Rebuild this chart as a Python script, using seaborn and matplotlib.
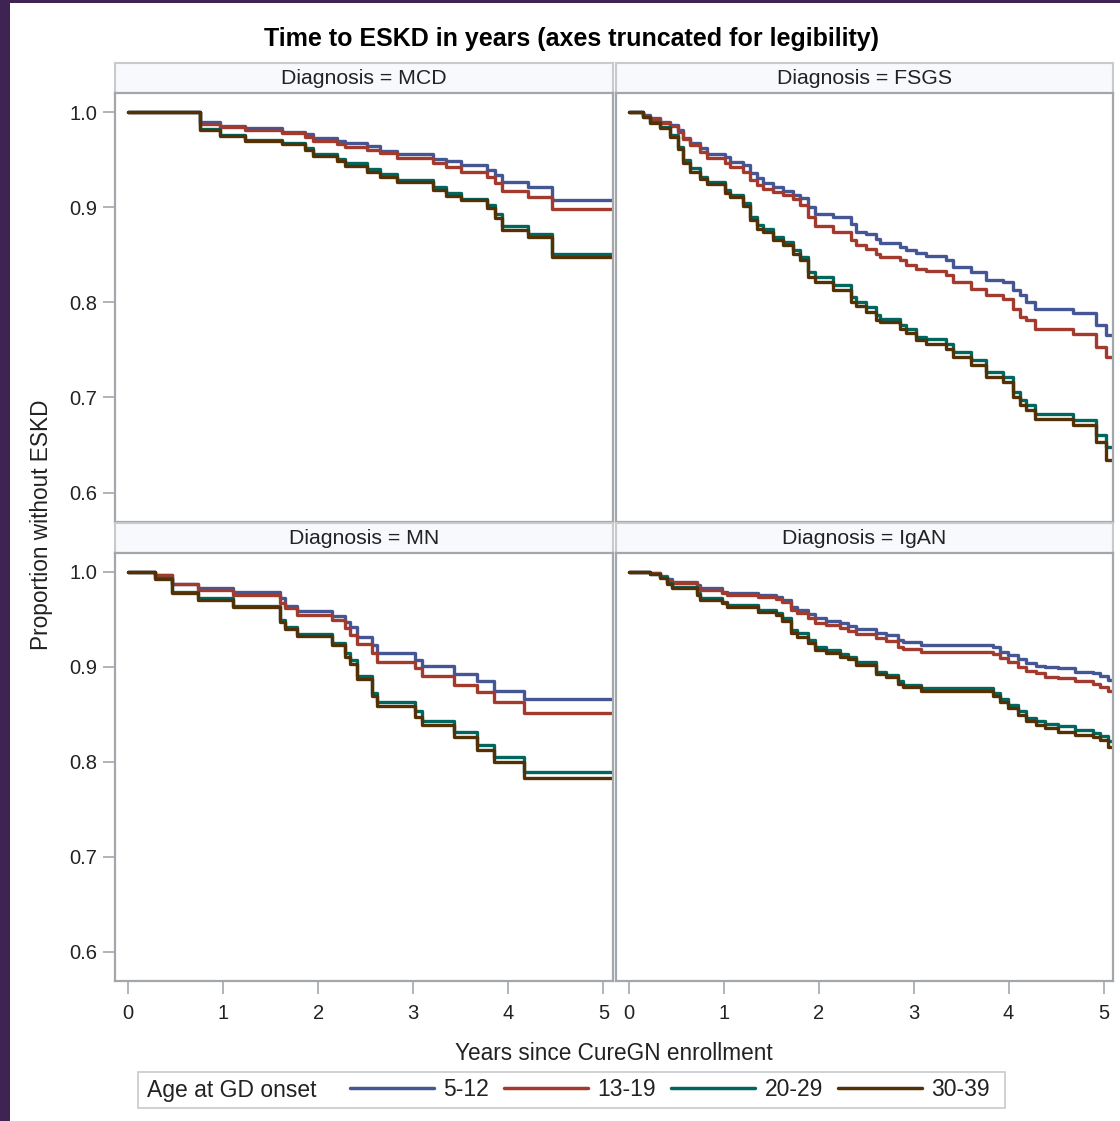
import numpy as np
import pandas as pd
import matplotlib
matplotlib.use("Agg")
import matplotlib.pyplot as plt
from matplotlib.lines import Line2D
from matplotlib.patches import Rectangle
import seaborn as sns

sns.set_style("white")
plt.rcParams["font.family"] = ["Liberation Sans", "DejaVu Sans"]

# ---------------- data ----------------
age_groups = ["5-12", "13-19", "20-29", "30-39"]
age_colors = ["#445694", "#A23A2E", "#01665E", "#543005"]
diagnoses = ["MCD", "FSGS", "MN", "IgAN"]
x_ticks = [0, 1, 2, 3, 4, 5]
y_ticks = [0.6, 0.7, 0.8, 0.9, 1.0]
t_end = 5.1

t_mcd = [0, 0.76, 0.97, 1.23, 1.62, 1.86, 1.95, 2.20, 2.28, 2.51, 2.65, 2.83,
         3.21, 3.34, 3.50, 3.78, 3.86, 3.93, 4.21, 4.46]
mcd_5_12 = [1.0, 0.989, 0.985, 0.983, 0.979, 0.977, 0.973, 0.970, 0.967, 0.964,
            0.959, 0.956, 0.951, 0.948, 0.944, 0.939, 0.934, 0.926, 0.921, 0.907]
mcd_13_19 = [1.0, 0.987, 0.984, 0.981, 0.978, 0.974, 0.970, 0.966, 0.9635, 0.960,
             0.957, 0.952, 0.946, 0.942, 0.937, 0.932, 0.925, 0.917, 0.911, 0.898]
mcd_20_29 = [1.0, 0.982, 0.976, 0.971, 0.967, 0.962, 0.956, 0.951, 0.946, 0.940,
             0.935, 0.929, 0.921, 0.915, 0.909, 0.902, 0.893, 0.880, 0.872, 0.851]
mcd_30_39 = [1.0, 0.981, 0.975, 0.970, 0.966, 0.960, 0.954, 0.948, 0.943, 0.937,
             0.932, 0.926, 0.918, 0.912, 0.907, 0.899, 0.889, 0.876, 0.869, 0.848]

t_fsgs = [0, 0.151, 0.221, 0.326, 0.432, 0.519, 0.572, 0.642, 0.747, 0.818,
          1.011, 1.063, 1.204, 1.274, 1.344, 1.414, 1.519, 1.625, 1.730, 1.800,
          1.888, 1.958, 2.151, 2.344, 2.396, 2.502, 2.607, 2.642, 2.853, 2.923,
          3.028, 3.133, 3.344, 3.414, 3.607, 3.765, 3.940, 4.046, 4.116, 4.186,
          4.274, 4.677, 4.923, 5.028]
fsgs_5_12 = [1.0, 0.997, 0.9933, 0.9898, 0.9863, 0.9811, 0.9723, 0.967, 0.9618, 0.9558,
             0.9523, 0.9477, 0.9442, 0.9361, 0.9302, 0.9249, 0.9214, 0.9168, 0.9126, 0.9091,
             0.9004, 0.8926, 0.8898, 0.8828, 0.874, 0.8716, 0.8663, 0.8628, 0.8582, 0.8554,
             0.8519, 0.8484, 0.8449, 0.8372, 0.8319, 0.8239, 0.8214, 0.8133, 0.8074, 0.8004,
             0.7926, 0.7891, 0.7758, 0.7653]
fsgs_13_19 = [1.0, 0.9958, 0.9923, 0.9888, 0.9853, 0.9793, 0.9712, 0.9653, 0.9582, 0.9512,
              0.9467, 0.9418, 0.9372, 0.9284, 0.9232, 0.9196, 0.9161, 0.9126, 0.9081, 0.9021,
              0.8898, 0.88, 0.874, 0.8653, 0.86, 0.8565, 0.8512, 0.8477, 0.8442, 0.8389,
              0.8354, 0.833, 0.8291, 0.8214, 0.8144, 0.8074, 0.8039, 0.7933, 0.7846, 0.7811,
              0.7723, 0.7663, 0.753, 0.7425]
fsgs_20_29 = [1.0, 0.9951, 0.9898, 0.9846, 0.9758, 0.9635, 0.9495, 0.9407, 0.9319, 0.9267,
              0.9179, 0.9126, 0.9039, 0.8898, 0.8811, 0.8775, 0.8688, 0.8635, 0.8547, 0.8477,
              0.8319, 0.8267, 0.8179, 0.8056, 0.8004, 0.7951, 0.7863, 0.7828, 0.7758, 0.7723,
              0.7635, 0.7618, 0.7565, 0.7477, 0.7389, 0.7267, 0.7214, 0.7056, 0.6968, 0.6916,
              0.6828, 0.6758, 0.66, 0.6477]
fsgs_30_39 = [1.0, 0.9944, 0.9888, 0.9828, 0.9733, 0.9607, 0.9467, 0.9372, 0.9291, 0.9242,
              0.9144, 0.9102, 0.9011, 0.8863, 0.8775, 0.874, 0.8653, 0.86, 0.8512, 0.8442,
              0.8267, 0.8214, 0.8133, 0.8004, 0.7958, 0.7898, 0.7818, 0.7793, 0.7723, 0.7677,
              0.76, 0.7565, 0.7512, 0.7425, 0.7337, 0.7214, 0.7161, 0.7004, 0.6916, 0.6863,
              0.6775, 0.6705, 0.6533, 0.6337]

t_mn = [0, 0.284, 0.460, 0.740, 1.109, 1.600, 1.653, 1.775, 2.144, 2.284,
        2.337, 2.407, 2.565, 2.618, 3.021, 3.091, 3.425, 3.670, 3.846, 4.161]
mn_5_12 = [1.0, 0.9968, 0.9874, 0.9828, 0.9793, 0.9723, 0.9642, 0.9589, 0.9537, 0.9477,
           0.9418, 0.9312, 0.9232, 0.9144, 0.9074, 0.9014, 0.8923, 0.8846, 0.8751, 0.866]
mn_13_19 = [1.0, 0.9968, 0.9874, 0.9811, 0.9758, 0.967, 0.9618, 0.9547, 0.9495, 0.9407,
            0.9337, 0.9242, 0.9144, 0.9049, 0.8986, 0.8905, 0.8811, 0.874, 0.8628, 0.8512]
mn_20_29 = [1.0, 0.9933, 0.9793, 0.9723, 0.9646, 0.9495, 0.9418, 0.9344, 0.9249, 0.9144,
            0.9074, 0.8905, 0.8723, 0.8628, 0.853, 0.8425, 0.8309, 0.8179, 0.8049, 0.7891]
mn_30_39 = [1.0, 0.9926, 0.9782, 0.9705, 0.9635, 0.9477, 0.9396, 0.9326, 0.9232, 0.9109,
            0.9032, 0.887, 0.8688, 0.8593, 0.8477, 0.8389, 0.826, 0.8126, 0.7996, 0.7828]

t_igan = [0, 0.221, 0.326, 0.396, 0.449, 0.712, 0.747, 0.975, 1.028, 1.361,
          1.554, 1.607, 1.712, 1.765, 1.888, 1.958, 2.081, 2.221, 2.309, 2.396,
          2.607, 2.712, 2.835, 2.888, 3.081, 3.835, 3.905, 3.993, 4.098, 4.186,
          4.291, 4.379, 4.519, 4.695, 4.888, 4.958, 5.046]
igan_5_12 = [1.0, 0.9986, 0.9958, 0.9923, 0.9898, 0.9863, 0.9828, 0.9793, 0.9775, 0.9758,
             0.9733, 0.9705, 0.9635, 0.96, 0.9558, 0.9512, 0.9488, 0.946, 0.9432, 0.9396,
             0.9354, 0.9337, 0.9284, 0.926, 0.9232, 0.9207, 0.9161, 0.9126, 0.9081, 0.9046,
             0.9014, 0.9004, 0.8986, 0.8951, 0.8933, 0.8905, 0.8863]
igan_13_19 = [1.0, 0.9986, 0.9951, 0.9909, 0.9881, 0.9846, 0.9811, 0.9775, 0.9758, 0.9733,
              0.9712, 0.9688, 0.96, 0.9565, 0.9512, 0.946, 0.9442, 0.9407, 0.9382, 0.9347,
              0.9302, 0.9277, 0.9214, 0.9189, 0.9161, 0.9137, 0.9091, 0.9056, 0.9004, 0.8961,
              0.8933, 0.8898, 0.8881, 0.8846, 0.8821, 0.8793, 0.8751]
igan_20_29 = [1.0, 0.9979, 0.9944, 0.9888, 0.9846, 0.9775, 0.9723, 0.9688, 0.9653, 0.96,
              0.9572, 0.9512, 0.9389, 0.9354, 0.9284, 0.9214, 0.9179, 0.9137, 0.9109, 0.9056,
              0.8951, 0.8916, 0.8846, 0.8811, 0.8775, 0.8723, 0.866, 0.86, 0.853, 0.846,
              0.8425, 0.8396, 0.8372, 0.8337, 0.8302, 0.8267, 0.8214]
igan_30_39 = [1.0, 0.9975, 0.9933, 0.9874, 0.9835, 0.9758, 0.9705, 0.967, 0.9635, 0.9582,
              0.9547, 0.9488, 0.9354, 0.9319, 0.9249, 0.9179, 0.9151, 0.9109, 0.9081, 0.9021,
              0.8926, 0.8891, 0.8821, 0.8786, 0.8751, 0.8695, 0.8625, 0.8565, 0.8495, 0.8425,
              0.8389, 0.8361, 0.8319, 0.8284, 0.826, 0.8225, 0.8161]

panel_times = {"MCD": t_mcd, "FSGS": t_fsgs, "MN": t_mn, "IgAN": t_igan}
panel_values = {
    "MCD": [mcd_5_12, mcd_13_19, mcd_20_29, mcd_30_39],
    "FSGS": [fsgs_5_12, fsgs_13_19, fsgs_20_29, fsgs_30_39],
    "MN": [mn_5_12, mn_13_19, mn_20_29, mn_30_39],
    "IgAN": [igan_5_12, igan_13_19, igan_20_29, igan_30_39],
}

rows = []
for dx in diagnoses:
    times = list(panel_times[dx]) + [t_end]
    for grp, vals in zip(age_groups, panel_values[dx]):
        vv = list(vals) + [vals[-1]]
        for t, v in zip(times, vv):
            rows.append({"Diagnosis": dx, "Age": grp, "t": t, "S": v})
df = pd.DataFrame(rows)
palette = dict(zip(age_groups, age_colors))

# ---------------- layout ----------------
W, H = 1120, 1121
fig = plt.figure(figsize=(W / 100, H / 100), dpi=100)
fig.patch.set_facecolor("white")
purple = "#3f2352"
fig.patches.append(Rectangle((0, 0), 10 / W, 1, transform=fig.transFigure,
                             facecolor=purple, edgecolor="none", zorder=0))
fig.patches.append(Rectangle((0, 1 - 3 / H), 1, 3 / H, transform=fig.transFigure,
                             facecolor=purple, edgecolor="none", zorder=0))

def px_axes(x0, y0, x1, y1):
    return fig.add_axes([x0 / W, 1 - y1 / H, (x1 - x0) / W, (y1 - y0) / H])

grey = "#a3a7ab"
txt = "#222222"
cols_px = [(115, 613), (616, 1113)]
rows_px = [((63, 93), (93, 522)), ((523, 553), (553, 981))]

for i, dx in enumerate(diagnoses):
    r, c = divmod(i, 2)
    (hy0, hy1), (py0, py1) = rows_px[r]
    x0, x1 = cols_px[c]
    # header strip
    hax = px_axes(x0, hy0, x1, hy1)
    hax.set_facecolor("#f7f9fd")
    hax.set_xticks([]); hax.set_yticks([])
    for s in hax.spines.values():
        s.set_color("#c8cacc"); s.set_linewidth(1.5)
    hax.text(0.5, 0.5, f"Diagnosis = {dx}", ha="center", va="center",
             fontsize=15.3, color=txt, transform=hax.transAxes)
    # panel
    ax = px_axes(x0, py0, x1, py1)
    sub = df[df["Diagnosis"] == dx]
    sns.lineplot(data=sub, x="t", y="S", hue="Age", hue_order=age_groups,
                 palette=palette, estimator=None, sort=False,
                 drawstyle="steps-post", linewidth=2.4, legend=False, ax=ax)
    ax.set_xlim(-0.137, 5.1)
    ax.set_ylim(0.569, 1.02)
    ax.set_xlabel(""); ax.set_ylabel("")
    for s in ax.spines.values():
        s.set_color(grey); s.set_linewidth(1.6)
    ax.set_xticks(x_ticks)
    ax.set_yticks(y_ticks)
    ax.set_yticklabels([f"{v:.1f}" for v in y_ticks])
    ax.tick_params(axis="both", colors=grey, labelcolor=txt, labelsize=14.5,
                   width=1.2, direction="out", bottom=(r == 1), left=(c == 0),
                   labelbottom=(r == 1), labelleft=(c == 0))
    ax.tick_params(axis="x", length=9.4, pad=7)
    ax.tick_params(axis="y", length=8.6, pad=4)

fig.text(572 / W, 1 - 39 / H, "Time to ESKD in years (axes truncated for legibility)",
         ha="center", va="center", fontsize=18, fontweight="bold", color="black")
fig.text(614 / W, 1 - 1053 / H, "Years since CureGN enrollment",
         ha="center", va="center", fontsize=16.3, color=txt)
fig.text(42 / W, 1 - 525 / H, "Proportion without ESKD", rotation=90,
         ha="center", va="center", fontsize=16.3, color=txt)

# legend
fig.patches.append(Rectangle((138 / W, 1 - 1108 / H), (1005 - 138) / W, 36 / H,
                             transform=fig.transFigure, facecolor="white",
                             edgecolor="#c8cacc", linewidth=1.2, zorder=1))
fig.text(147 / W, 1 - 1090 / H, "Age at GD onset", ha="left", va="center",
         fontsize=16.5, color=txt)
handles = [Line2D([], [], color=col, linewidth=2.5) for col in age_colors]
leg = fig.legend(handles, age_groups, loc="center left",
                 bbox_to_anchor=(350 / W, 1 - 1090 / H), ncol=4, frameon=False,
                 fontsize=16.5, handlelength=3.65, handletextpad=0.42,
                 columnspacing=0.66, borderpad=0, borderaxespad=0)
for t in leg.get_texts():
    t.set_color(txt)

fig.savefig("out.png", dpi=100, facecolor=fig.get_facecolor())
